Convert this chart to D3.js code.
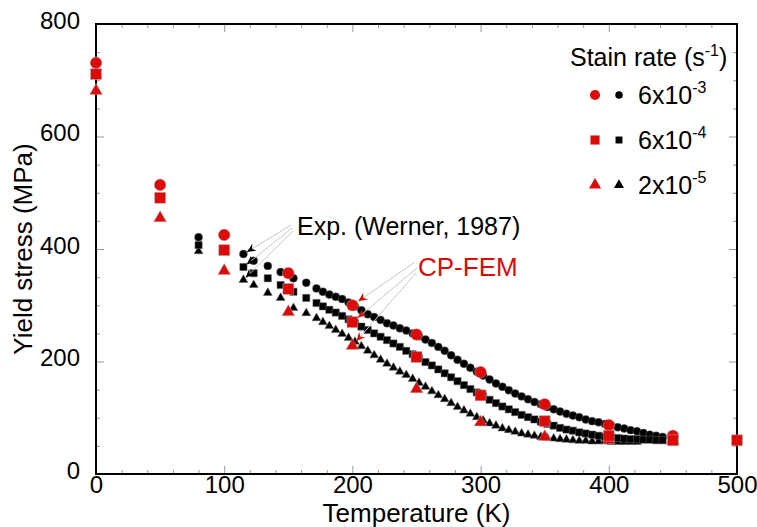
<!DOCTYPE html>
<html>
<head>
<meta charset="utf-8">
<script src="https://cdn.jsdelivr.net/npm/d3@7/dist/d3.min.js"></script>
<style>
  body { margin: 0; background: #fff; }
  svg { font-family: "Liberation Sans", Arial, sans-serif; }
</style>
</head>
<body>
<div id="chart"></div>
<script>
// CP-FEM simulation (red), one value per temperature
var femT = [0, 50, 100, 150, 200, 250, 300, 350, 400, 450, 500];
var femRate3 = [731, 514, 425, 357, 300, 248, 181, 124, 87, 68];
var femRate4 = [711, 491, 398, 329, 270, 208, 140, 94, 68, 60, 60];
var femRate5 = [681, 455, 361, 288, 228, 151, 92, 66, 60, 59];

// Experiment (Werner, 1987), black
var expT = [80, 115, 123, 134, 144, 154, 164, 172, 177, 182, 187, 192, 197, 202, 207, 212,
  217, 222, 227, 232, 237, 242, 247, 252, 257, 262, 267, 272, 277, 282, 287, 292, 297,
  302, 307, 312, 317, 322, 327, 332, 337, 342, 347, 352, 357, 362, 367, 372, 377, 382,
  387, 392, 397, 402, 407, 412, 417, 422, 427, 432, 437, 442];
var expRate3 = [421, 391, 379, 370, 359, 348, 340, 330, 324, 319, 315, 311, 305, 298, 291, 284,
  279, 274, 268, 264, 259, 255, 250, 245, 239, 233, 226, 219, 211, 203, 196, 189, 182,
  175, 168, 161, 155, 149, 143, 138, 133, 128, 124, 119, 115, 111, 107, 104, 101, 97,
  94, 92, 89, 86, 83, 81, 78, 76, 73, 70, 68, 66];
var expRate4 = [407, 368, 357, 348, 336, 324, 313, 304, 298, 292, 287, 281, 275, 268, 262, 256,
  250, 244, 238, 232, 226, 219, 213, 206, 199, 193, 186, 179, 172, 165, 158, 151, 145,
  138, 132, 126, 120, 115, 110, 105, 101, 97, 93, 89, 86, 82, 79, 77, 74, 72,
  70, 68, 66, 65, 64, 63, 62, 62, 61, 61, 60, 60];
var expRate5 = [396, 345, 336, 322, 313, 295, 286, 277, 270, 263, 256, 249, 242, 235, 227, 219,
  211, 203, 196, 189, 182, 176, 169, 162, 155, 147, 140, 133, 126, 119, 113, 107, 101,
  95, 90, 86, 81, 78, 75, 72, 70, 68, 66, 64, 63, 62, 61, 60, 59, 59,
  58, 58, 58, 57, 57, 57, 57, 57];

var legendLabels = [["6x10", "-3"], ["6x10", "-4"], ["2x10", "-5"]];
var xTicks = [0, 100, 200, 300, 400, 500];
var yTicks = [0, 200, 400, 600, 800];

var width = 757, height = 527;
var red = "#dd0a0a";

var x = d3.scaleLinear().domain([0, 500]).range([96, 737]);
var y = d3.scaleLinear().domain([0, 800]).range([474, 24]);

var svg = d3.select("#chart").append("svg")
  .attr("width", width)
  .attr("height", height);

var defs = svg.append("defs");
[["arrBlack", "#000"], ["arrRed", red]].forEach(function (m) {
  defs.append("marker")
    .attr("id", m[0])
    .attr("viewBox", "-10 -5 12 10")
    .attr("refX", 0).attr("refY", 0)
    .attr("markerWidth", 12).attr("markerHeight", 10)
    .attr("markerUnits", "userSpaceOnUse")
    .attr("orient", "auto")
    .append("path")
    .attr("d", "M0,0 L-9,-4 L-6,0 L-9,4 Z")
    .attr("fill", m[1]);
});

/* ticks: major + minor, all pointing inward, on all four sides */
var minorX = d3.range(0, 501, 20).filter(d => d % 100 != 0);
var minorY = d3.range(0, 801, 50).filter(d => d % 200 != 0);

function styleAxis(g) {
  g.select(".domain").remove();
  g.selectAll(".tick line").attr("stroke", "#999");
  g.selectAll("text").attr("fill", "#000").style("font-size", "24px");
}

svg.append("g").attr("transform", "translate(0,474)")
  .call(d3.axisBottom(x).tickValues(xTicks).tickSize(-8).tickPadding(2).tickFormat(d3.format("d")))
  .call(styleAxis);
svg.append("g").attr("transform", "translate(0,474)")
  .call(d3.axisBottom(x).tickValues(minorX).tickSize(-4).tickFormat(""))
  .call(styleAxis);
svg.append("g").attr("transform", "translate(0,24)")
  .call(d3.axisTop(x).tickValues(xTicks).tickSize(-8).tickFormat(""))
  .call(styleAxis);
svg.append("g").attr("transform", "translate(0,24)")
  .call(d3.axisTop(x).tickValues(minorX).tickSize(-4).tickFormat(""))
  .call(styleAxis);

svg.append("g").attr("transform", "translate(96,0)")
  .call(d3.axisLeft(y).tickValues(yTicks).tickSize(-8).tickPadding(16).tickFormat(d3.format("d")))
  .call(styleAxis)
  .selectAll("text").attr("dy", "0.17em");
svg.append("g").attr("transform", "translate(96,0)")
  .call(d3.axisLeft(y).tickValues(minorY).tickSize(-4).tickFormat(""))
  .call(styleAxis);
svg.append("g").attr("transform", "translate(737,0)")
  .call(d3.axisRight(y).tickValues(yTicks).tickSize(-8).tickFormat(""))
  .call(styleAxis);
svg.append("g").attr("transform", "translate(737,0)")
  .call(d3.axisRight(y).tickValues(minorY).tickSize(-4).tickFormat(""))
  .call(styleAxis);

svg.append("rect")
  .attr("x", x(0)).attr("y", y(800))
  .attr("width", x(500) - x(0)).attr("height", y(0) - y(800))
  .attr("fill", "none").attr("stroke", "#000").attr("stroke-width", 2);

/* axis titles */
svg.append("text")
  .attr("x", (x(0) + x(500)) / 2).attr("y", 522)
  .attr("text-anchor", "middle")
  .style("font-size", "26px")
  .text("Temperature (K)");
svg.append("text")
  .attr("transform", "translate(32," + ((y(0) + y(800)) / 2) + ") rotate(-90)")
  .attr("text-anchor", "middle")
  .style("font-size", "26px")
  .text("Yield stress (MPa)");

/* annotation arrows */
function arrow(x1, y1, tx, ty, gap, mk) {
  var dx = x1 - tx, dy = y1 - ty, l = Math.sqrt(dx * dx + dy * dy);
  svg.append("line")
    .attr("x1", x1).attr("y1", y1)
    .attr("x2", tx + dx / l * gap).attr("y2", ty + dy / l * gap)
    .attr("stroke", "#c8c8c8").attr("stroke-width", 1)
    .attr("marker-end", "url(#" + mk + ")");
}

/* markers */
var sym = {
  circle: d3.symbolCircle, square: d3.symbolSquare, triangle: d3.symbolTriangle
};

function drawSeries(ts, vals, shape, size, fill) {
  svg.append("g").selectAll("path")
    .data(vals).enter()
    .append("path")
    .attr("transform", (d, i) => "translate(" + x(ts[i]) + "," + y(d) + ")")
    .attr("d", d3.symbol().type(sym[shape]).size(size))
    .attr("fill", fill)
    .attr("stroke", fill == red ? "#b0b0b0" : "#666")
    .attr("stroke-width", 0.5);
}

drawSeries(expT, expRate5, "triangle", 34, "#000");
drawSeries(expT, expRate3, "circle", 50, "#000");
drawSeries(expT, expRate4, "square", 52, "#000");

arrow(291, 225, x(115), y(391), 4, "arrBlack");
arrow(292, 228, x(115), y(368), 4, "arrBlack");
arrow(293, 231, x(115), y(345), 3, "arrBlack");

drawSeries(femT, femRate5, "triangle", 70, red);
drawSeries(femT, femRate3, "circle", 108, red);
drawSeries(femT, femRate4, "square", 120, red);

arrow(415, 262, x(200), y(300), 7, "arrRed");
arrow(417, 268, x(200), y(270), 7, "arrRed");
arrow(416, 273, x(200), y(228), 6, "arrRed");

svg.append("text")
  .attr("x", 297).attr("y", 235)
  .style("font-size", "25px")
  .text("Exp. (Werner, 1987)");
svg.append("text")
  .attr("x", 418).attr("y", 276)
  .style("font-size", "26px")
  .attr("fill", red)
  .text("CP-FEM");

/* legend */
var lg = svg.append("g");
var title = lg.append("text").attr("x", 570).attr("y", 66).style("font-size", "25px");
title.append("tspan").text("Stain rate (s");
title.append("tspan").attr("dy", -10).style("font-size", "16px").text("-1");
title.append("tspan").attr("dy", 10).text(")");

var legShapes = ["circle", "square", "triangle"];
var legSize = { red: [80, 82, 64], black: [44, 48, 44] };
legendLabels.forEach(function (lab, i) {
  var cy = 95 + i * 45;
  lg.append("path")
    .attr("transform", "translate(595," + cy + ")")
    .attr("d", d3.symbol().type(sym[legShapes[i]]).size(legSize.red[i]))
    .attr("fill", red);
  lg.append("path")
    .attr("transform", "translate(619," + cy + ")")
    .attr("d", d3.symbol().type(sym[legShapes[i]]).size(legSize.black[i]))
    .attr("fill", "#000");
  var t = lg.append("text").attr("x", 638).attr("y", cy + 9).style("font-size", "25px");
  t.append("tspan").text(lab[0]);
  t.append("tspan").attr("dy", -11).style("font-size", "16px").text(lab[1]);
});
</script>
</body>
</html>
